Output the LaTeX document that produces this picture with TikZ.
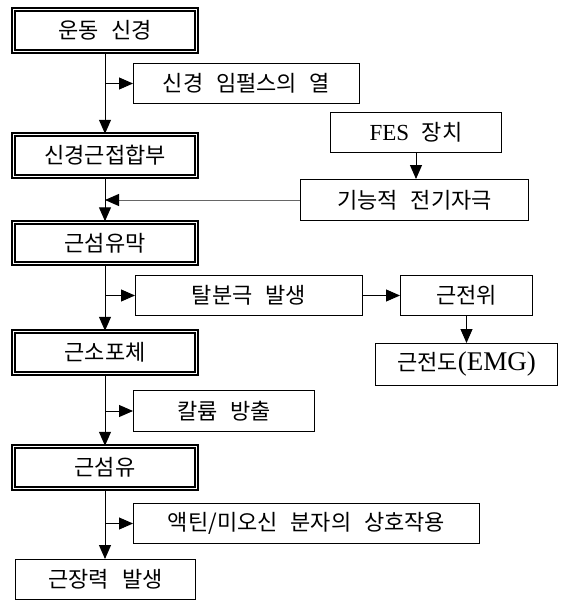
\documentclass[tikz,border=0pt]{standalone}
\usepackage{fontspec}
\usepackage{tikz}
\usetikzlibrary{arrows.meta, positioning, calc}
\setmainfont{Liberation Serif}
\newfontfamily\kr[WordSpace=2.6]{Noto Sans CJK KR}
\tikzset{
    stagenode/.style = {inner sep=0pt, text centered,
        draw=black, font=\kr\fontsize{22}{26}\selectfont},
    main_box/.style = {stagenode, line width=2pt, double, double distance=1.4pt,
        minimum width=182.6pt, minimum height=41.5pt},
    side_box/.style = {stagenode, line width=1pt},
    link/.style = {line width=1pt, black},
}
\newcommand{\latin}[2]{{\rmfamily\fontsize{#1}{#1}\selectfont #2}}

\begin{document}
\begin{tikzpicture}[->,>={Triangle[length=14pt,width=12pt]},x=1pt,y=-1pt]
            \useasboundingbox (0,0) rectangle (565,600);
            % main chain
            \node (motor) [main_box] at (105,30.5) {운동 신경};
            \node (nmj) [main_box] at (105,155.5) {신경근접합부};
            \node (sarcolemma) [main_box] at (105,243) {근섬유막};
            \node (sr) [main_box] at (105,352.5) {근소포체};
            \node (fiber) [main_box] at (105,467.5) {근섬유};
            \node (force) [side_box, minimum width=180pt, minimum height=40pt] at (105.5,579.5) {근장력 발생};
            % side boxes
            \node (impulse) [side_box, minimum width=226pt, minimum height=40pt] at (246.5,83.5) {신경 임펄스의 열};
            \node (fes) [side_box, minimum width=171pt, minimum height=40pt] at (416,132.5) {\latin{23}{FES} 장치};
            \node (stim) [side_box, minimum width=228pt, minimum height=41pt] at (414.5,200) {기능적 전기자극};
            \node (depol) [side_box, minimum width=227pt, minimum height=40pt] at (249,295.5) {탈분극 발생};
            \node (mpot) [side_box, minimum width=132pt, minimum height=40pt] at (466.5,295.5) {근전위};
            \node (emg) [side_box, minimum width=182pt, minimum height=42pt] at (466.5,364.5) {근전도\latin{27}{(EMG)}};
            \node (kal) [side_box, minimum width=181pt, minimum height=41pt] at (224,411) {칼륨 방출};
            \node (actin) [side_box, minimum width=346pt, minimum height=40pt] at (306.5,523.5) {액틴/미오신 분자의 상호작용};

            \draw [link] (motor) -- (nmj);
            \draw [link] (motor |- impulse) -- (impulse);
            \draw [link] (fes) -- (fes |- stim.north);
            \draw [link, draw=black!60, -{Triangle[length=14pt,width=12pt,color=black]}] (stim) -- (nmj |- stim);
            \draw [link] (nmj) -- (sarcolemma);
            \draw [link] (sarcolemma) -- (sr);
            \draw [link] (sarcolemma |- depol) -- (depol);
            \draw [link] (depol) -- (mpot);
            \draw [link] (mpot) -- (emg);
            \draw [link] (sr) -- (fiber);
            \draw [link] (sr |- kal) -- (kal);
            \draw [link] (fiber) -- (fiber |- force.north);
            \draw [link] (fiber |- actin) -- (actin);
\end{tikzpicture}
\end{document}
